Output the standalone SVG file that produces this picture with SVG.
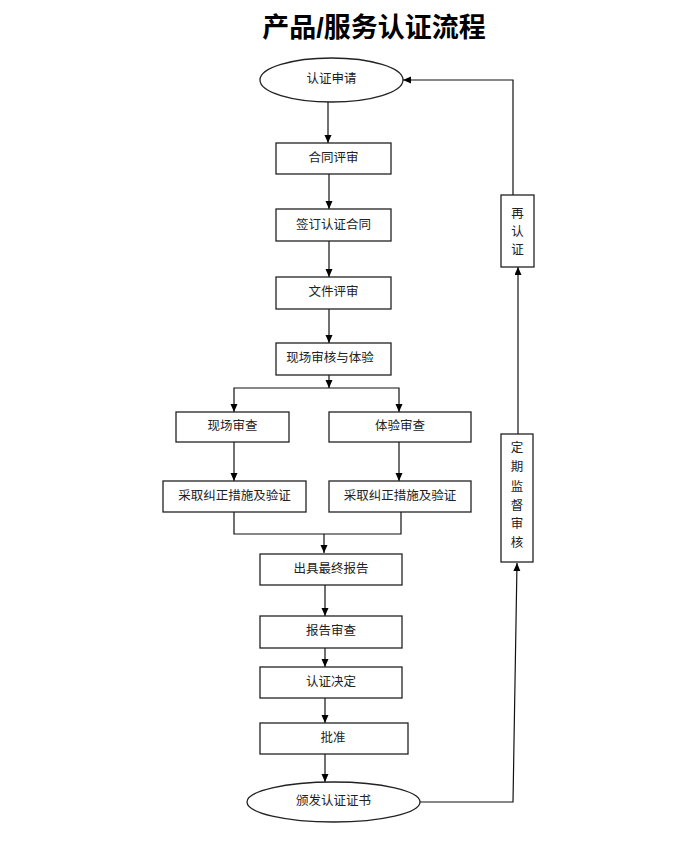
<svg xmlns="http://www.w3.org/2000/svg" width="689" height="844" viewBox="0 0 689 844">
<defs>
<style>
.n rect,.n ellipse{fill:#fff;stroke:#222;stroke-width:1.3}
.n text{font-family:"Liberation Sans","Noto Sans CJK SC",sans-serif;font-size:12.5px;fill:#222;text-anchor:middle;dominant-baseline:central}
#conn path{fill:none;stroke:#111;stroke-width:1.2}
.t{font-family:"Liberation Sans","Noto Sans CJK SC",sans-serif;font-size:27px;font-weight:700;fill:#000;text-anchor:middle}
</style>
<marker id="ah" markerUnits="userSpaceOnUse" markerWidth="9" markerHeight="8" refX="8" refY="3.5" orient="auto">
<path d="M0,0 L8,3.5 L0,7 z" fill="#000"/>
</marker>
</defs>
<rect width="689" height="844" fill="#fff"/>
<text class="t" x="374" y="37">产品/服务认证流程</text>
<g id="conn">
<path d="M328,102 V143" marker-end="url(#ah)"/>
<path d="M329,174 V209" marker-end="url(#ah)"/>
<path d="M329,241 V277" marker-end="url(#ah)"/>
<path d="M329,309 V343" marker-end="url(#ah)"/>
<path d="M329,375 V388" marker-end="url(#ah)"/>
<path d="M329,388 H234 V412" marker-end="url(#ah)"/>
<path d="M329,388 H399 V412" marker-end="url(#ah)"/>
<path d="M234,442 V481" marker-end="url(#ah)"/>
<path d="M399,442 V481" marker-end="url(#ah)"/>
<path d="M234,512 V534 H401 V512"/>
<path d="M324,534 V553" marker-end="url(#ah)"/>
<path d="M325,585 V616" marker-end="url(#ah)"/>
<path d="M325,648 V667" marker-end="url(#ah)"/>
<path d="M325,698 V723" marker-end="url(#ah)"/>
<path d="M325,754 V782" marker-end="url(#ah)"/>
<path d="M420,802 H513 L517,563" marker-end="url(#ah)"/>
<path d="M518,434 V267" marker-end="url(#ah)"/>
<path d="M513,195 V80 H403" marker-end="url(#ah)"/>
</g>
<g id="n1" class="n"><ellipse cx="331.5" cy="80" rx="71.5" ry="22"/><text x="331.5" y="79">认证申请</text></g>
<g id="n2" class="n"><rect x="276" y="143" width="115" height="31"/><text x="333.5" y="158">合同评审</text></g>
<g id="n3" class="n"><rect x="276" y="209" width="115" height="32"/><text x="333.5" y="225">签订认证合同</text></g>
<g id="n4" class="n"><rect x="276" y="277" width="115" height="32"/><text x="333.5" y="292">文件评审</text></g>
<g id="n5" class="n"><rect x="276" y="343" width="115" height="32"/><text x="330" y="358">现场审核与体验</text></g>
<g id="n6" class="n"><rect x="176" y="412" width="113" height="30"/><text x="232.5" y="426">现场审查</text></g>
<g id="n7" class="n"><rect x="329" y="412" width="142" height="30"/><text x="400" y="426">体验审查</text></g>
<g id="n8" class="n"><rect x="163" y="481" width="143" height="31"/><text x="234.5" y="496">采取纠正措施及验证</text></g>
<g id="n9" class="n"><rect x="329" y="481" width="142" height="31"/><text x="400" y="496">采取纠正措施及验证</text></g>
<g id="n10" class="n"><rect x="260" y="554" width="142" height="31"/><text x="331" y="569">出具最终报告</text></g>
<g id="n11" class="n"><rect x="260" y="616" width="142" height="32"/><text x="331" y="631">报告审查</text></g>
<g id="n12" class="n"><rect x="260" y="667" width="142" height="31"/><text x="331" y="682">认证决定</text></g>
<g id="n13" class="n"><rect x="260" y="723" width="148" height="31"/><text x="333" y="738">批准</text></g>
<g id="n14" class="n"><ellipse cx="333.5" cy="802" rx="86.5" ry="20"/><text x="333.5" y="801">颁发认证证书</text></g>
<g id="n15" class="n"><rect x="501" y="195" width="33" height="72"/><text x="517.5" y="214">再</text><text x="517.5" y="232">认</text><text x="517.5" y="250">证</text></g>
<g id="n16" class="n"><rect x="501" y="434" width="32" height="128"/><text x="517" y="448">定</text><text x="517" y="467">期</text><text x="517" y="487">监</text><text x="517" y="506">督</text><text x="517" y="524">审</text><text x="517" y="543">核</text></g>
</svg>
